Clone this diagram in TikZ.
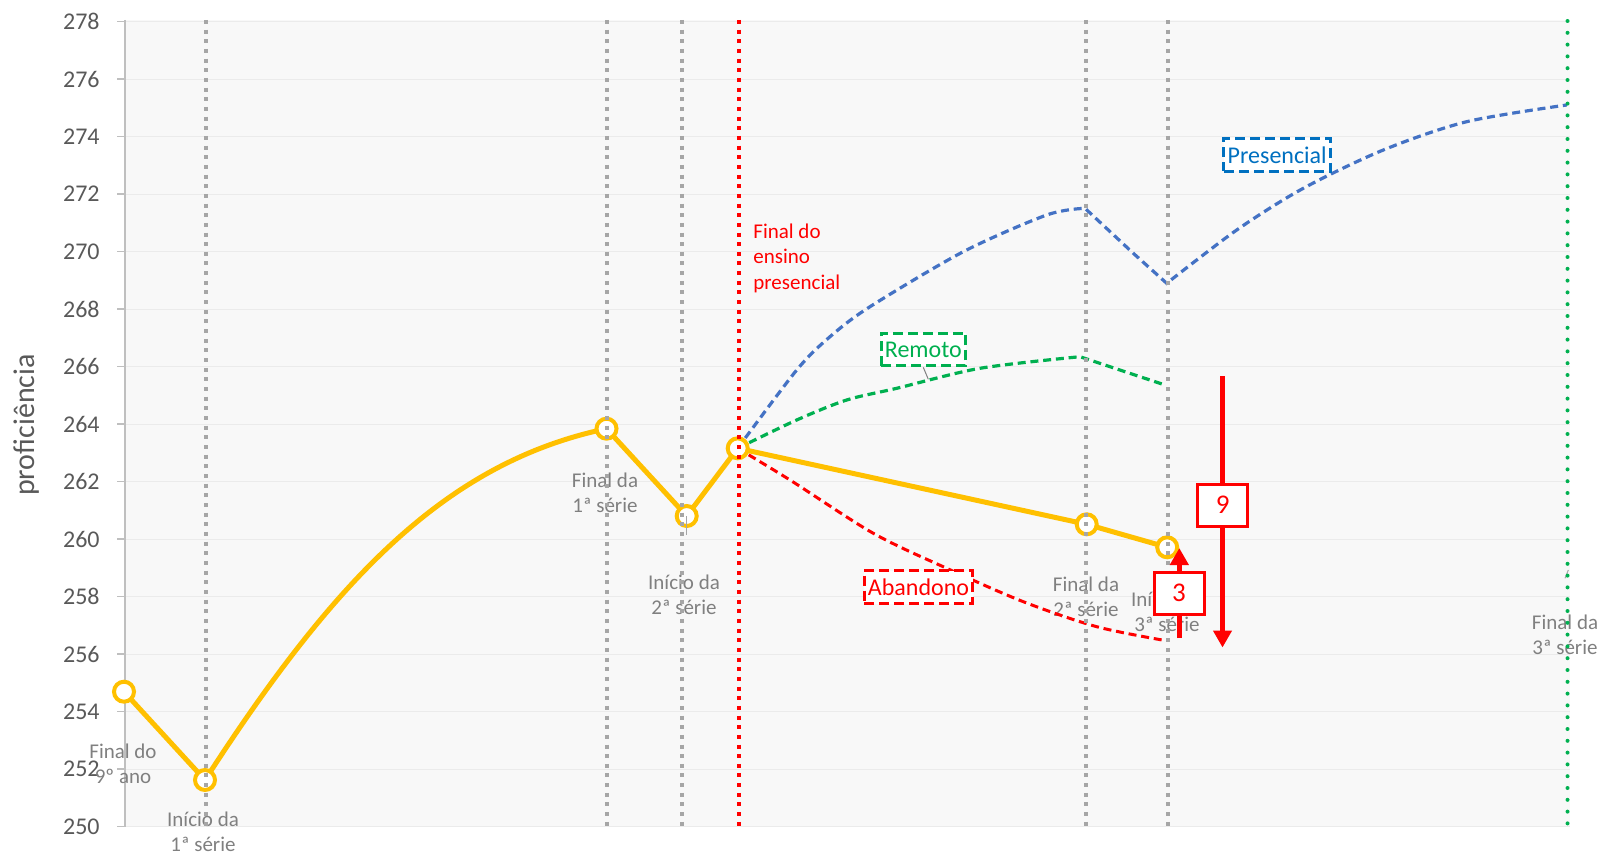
\documentclass[tikz,border=0pt]{standalone}
\usepackage{fontspec}
\setmainfont{Carlito}
\usetikzlibrary{arrows.meta}
\definecolor{axisgrey}{HTML}{BFBFBF}
\definecolor{gridgrey}{HTML}{EBEBEB}
\definecolor{plotbg}{HTML}{F8F8F8}
\definecolor{ticktext}{HTML}{595959}
\definecolor{labgrey}{HTML}{808080}
\definecolor{dotgrey}{HTML}{A6A6A6}
\definecolor{gold}{HTML}{FFC000}
\definecolor{presblue}{HTML}{4472C4}
\definecolor{boxblue}{HTML}{0070C0}
\definecolor{remgreen}{HTML}{00B050}
\definecolor{abred}{HTML}{FF0000}

\begin{document}
\begin{tikzpicture}[x=0.5pt, y=-0.5pt, >={Triangle[width=9pt,length=8.5pt]},
        datapt/.style={circle, draw=gold, line width=2pt, fill=white, minimum size=10pt, inner sep=0pt},
        stage/.style={align=center, font=\fontsize{10.5}{12.5}\selectfont, text=labgrey, inner sep=0pt},
        grade/.style={dotgrey, line width=2pt, dash pattern=on 2pt off 2.83pt},
        series/.style={line width=1.6pt, dash pattern=on 4pt off 2.4pt},
        tag/.style={line width=1.5pt, dash pattern=on 5pt off 2.5pt, fill=white, font=\fontsize{12}{14}\selectfont, inner xsep=1.9pt, inner ysep=0pt, minimum height=16.4pt},
        gap/.style={draw=abred, line width=1.5pt, fill=white, text=abred, font=\fontsize{13.5}{16}\selectfont, minimum width=25pt, minimum height=21pt},
        leader/.style={dotgrey, line width=0.5pt}]
        \useasboundingbox (0,0) rectangle (1604,855);
        \fill[plotbg] (125,20) rectangle (1570,827);
        \foreach \k in {0,...,14}{
            \pgfmathsetmacro\gy{826.7-57.5*\k}
            \pgfmathtruncatemacro\val{250+2*\k}
            \draw[gridgrey, line width=0.5pt] (125,\gy) -- (1570,\gy);
            \draw[axisgrey, line width=0.75pt] (117,\gy) -- (125,\gy);
            \node[anchor=east, inner sep=0pt, text=ticktext, font=\fontsize{12}{14}\selectfont] (t\val) at (100,\gy) {\val};
        }
        \draw[axisgrey, line width=0.75pt] (125,20) -- (125,827);
        \node[rotate=90, text=ticktext, font=\fontsize{15}{18}\selectfont] (ytitle) at (27,425) {proficiência};

        \node[stage] (l0) at (123,764) {Final do\\9º ano};
        \node[stage] (l1) at (203,831.7) {Início da\\1ª série};
        \node[stage] (l2) at (605,492.3) {Final da\\1ª série};
        \node[stage] (l3) at (684,595) {Início da\\2ª série};
        \node[stage] (l5) at (1086,596.7) {Final da\\2ª série};
        \node[stage] (l6) at (1167,612) {Início da\\3ª série};
        \node[stage] (l7) at (1565,634.7) {Final da\\3ª série};
        \node[anchor=north west, align=left, text=abred, font=\fontsize{10.5}{12.75}\selectfont, inner sep=0pt] (fim) at (753,223.5) {Final do\\ensino\\presencial};

        \coordinate (p0) at (124,691.7);
        \coordinate (p1) at (205,780);
        \coordinate (p2) at (606.5,428.7);
        \coordinate (p3) at (686.7,516);
        \coordinate (p4) at (737.7,448.3);
        \coordinate (p5) at (1086.7,524.3);
        \coordinate (p6) at (1167.2,547.3);

        \draw[series, presblue] plot[smooth] coordinates {(737.7,448.3) (796.7,370) (830,336.7) (870,306.7) (963.3,251.7) (1046.7,215) (1085,208.3)}
            -- (1133.3,253.3) -- (1166.7,283.3)
            -- plot[smooth] coordinates {(1166.7,283.3) (1236.7,230) (1303.3,188.3) (1383.3,150) (1466.7,121.7) (1566.7,105)};
        \draw[series, remgreen] plot[smooth] coordinates {(737.7,448.3) (796.7,420) (846.7,400) (896.7,388.3) (980,368.3) (1080,356.7)}
            -- (1140,376.7) -- (1165,385);
        \draw[series, abred, line width=1.5pt] plot[smooth] coordinates {(737.7,448.3) (790,480) (873.3,533.3) (946.7,568.3) (1023.3,601.7) (1096.7,626.7) (1165,640.5)};

        \draw[gold, line width=2.5pt, line join=round] (p0) -- (p1)
            .. controls (335,578.5) and (446.5,462.3) .. (p2)
            -- (p3) -- (p4) -- (p5) -- (p6);
        \foreach \i in {0,...,6}
            \node[datapt] (d\i) at (p\i) {};

        \coordinate (e3) at (686.7,534.7);
        \coordinate (e7) at (1568.3,570);
        \coordinate (s7) at (1565,578.3);
        \draw[leader] (d3.center) -- (e3);
        \draw[leader] (s7) -- (e7);

        \foreach \gx in {206,606.5,681.7,1085.5,1168.2}
            \draw[grade] (\gx,20) -- (\gx,827);
        \draw[abred, line width=2pt, dash pattern=on 2pt off 2.83pt] (739,20) -- (739,827);
        \draw[remgreen, line width=2pt, line cap=round, dash pattern=on 0pt off 5.9pt] (1567.5,21) -- (1567.5,827);

        \node[tag, draw=boxblue, text=boxblue] (pres) at (1277.2,154.8) {Presencial};
        \node[tag, draw=remgreen, text=remgreen] (remo) at (923.3,349.5) {Remoto};
        \node[tag, draw=abred, text=abred] (aban) at (918.5,587.2) {Abandono};
        \coordinate (rm) at (928.3,379.3);
        \draw[leader, labgrey] (remo.south) -- (rm);

        \coordinate (n9a) at (1222.5,376);
        \coordinate (n9b) at (1222.5,647.5);
        \coordinate (n3a) at (1179.3,638);
        \coordinate (n3b) at (1179.3,548);
        \draw[->, abred, line width=2.5pt] (n9a) -- (n9b);
        \draw[->, abred, line width=2.5pt] (n3a) -- (n3b);
        \node[gap] (g9) at (1222.7,505.2) {9};
        \node[gap] (g3) at (1179,593) {3};
\end{tikzpicture}
\end{document}
